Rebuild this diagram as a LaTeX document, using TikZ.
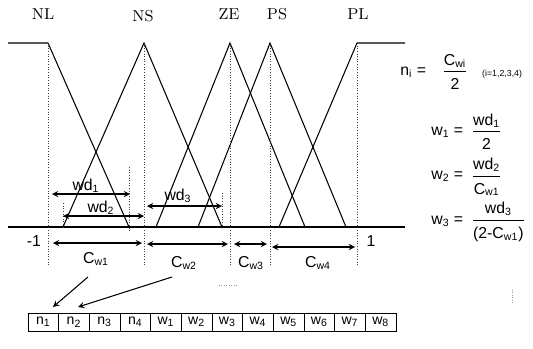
\documentclass[tikz,border=0pt]{standalone}
\usepackage{amsmath}
\usepackage{fontspec}
\newfontfamily\lsans{Liberation Sans}
\usetikzlibrary{calc}

\newcommand{\numstrut}{\rule[-2pt]{0pt}{2pt}}
\newcommand{\denstrut}{\rule{0pt}{9pt}}

\tikzset{
  mf/.style={line width=0.6pt},
  guide/.style={densely dotted, line width=0.5pt, black!75},
  dim/.style={<->, line width=0.6pt},
  setname/.style={font=\small},
  lbl/.style={font=\lsans\small},
  eqn/.style={font=\lsans\small, anchor=west, inner sep=0pt},
  cell/.style={draw, line width=0.5pt, minimum width=0.613cm, minimum height=0.36cm,
    inner sep=0pt, font=\lsans\footnotesize},
}

\begin{document}
\begin{tikzpicture}[x=0.02cm, y=-0.02cm, >=stealth]
  \useasboundingbox (0,0) rectangle (533,348);
  % ------- membership functions -------
  \draw[mf] (8,43) -- (48,43) -- (129,227);
  \draw[mf] (63,227) -- (144,43) -- (222,227);
  \draw[mf] (156,227) -- (230,43) -- (305,227);
  \draw[mf] (198,227) -- (270,43) -- (346,227);
  \draw[mf] (279,227) -- (357,43) -- (405,43);
  \draw[line width=1pt] (8,227) -- (405,227);
  \node[setname] (nl) at (43,14) {NL};
  \node[setname] (ns) at (143,16) {NS};
  \node[setname] (ze) at (229,14) {ZE};
  \node[setname] (ps) at (277,14) {PS};
  \node[setname] (pl) at (358,14) {PL};
  % ------- guide lines -------
  \foreach \x in {48,144,230,270,357} {
    \draw[guide] (\x,43) -- (\x,265);
  }
  \draw[guide] (129,167) -- (129,232);
  \draw[guide] (222,193) -- (222,227);
  \draw[guide] (63,203) -- (63,227);
  \node[lbl] (m1) at (34,241) {-1};
  \node[lbl] (p1) at (371,241) {1};
  % ------- widths -------
  \draw[dim] (52,194) -- (130,194);
  \node[lbl] (wd1) at (86,186) {wd\textsubscript{1}};
  \draw[dim] (63,216) -- (144,216);
  \node[lbl] (wd2) at (101,208) {wd\textsubscript{2}};
  \draw[dim] (147,206) -- (222,206);
  \node[lbl] (wd3) at (178,196) {wd\textsubscript{3}};
  % ------- centre distances -------
  \draw[dim] (53,243) -- (142,243);
  \node[lbl] (cw1) at (96,259) {C\textsubscript{w1}};
  \draw[dim] (147,244) -- (228,244);
  \node[lbl] (cw2) at (184,263) {C\textsubscript{w2}};
  \draw[dim] (234,244) -- (267,244);
  \node[lbl] (cw3) at (251,263) {C\textsubscript{w3}};
  \draw[dim] (272,247) -- (355,247);
  \node[lbl] (cw4) at (318,263) {C\textsubscript{w4}};
  % ------- formulas -------
  \node[eqn] (eqn) at (400,72)
    {n\textsubscript{i} =\quad$\dfrac{\text{C\textsubscript{wi}}\numstrut}{\text{2}\denstrut}$};
  \node[font=\lsans\tiny, anchor=west] (range) at (476,74) {(i=1,2,3,4)};
  \node[eqn] (eqw1) at (431,132)
    {w\textsubscript{1} =\enspace$\dfrac{\text{wd\textsubscript{1}}\numstrut}{\text{2}\denstrut}$};
  \node[eqn] (eqw2) at (431,177)
    {w\textsubscript{2} =\enspace$\dfrac{\text{wd\textsubscript{2}}\numstrut}{\text{C\textsubscript{w1}}\denstrut}$};
  \node[eqn] (eqw3) at (431,222)
    {w\textsubscript{3} =\enspace$\dfrac{\text{wd\textsubscript{3}}\numstrut}{\text{(2-C\textsubscript{w1})}\denstrut}$};
  % ------- parameter string -------
  \foreach \t [count=\i] in {n\textsubscript{1},n\textsubscript{2},n\textsubscript{3},n\textsubscript{4},
      w\textsubscript{1},w\textsubscript{2},w\textsubscript{3},w\textsubscript{4},
      w\textsubscript{5},w\textsubscript{6},w\textsubscript{7},w\textsubscript{8}} {
    \node[cell] (c\i) at ({28+30.67*(\i-0.5)},322) {\t};
  }
  \coordinate (from1) at (88,277);
  \coordinate (from2) at (172,277);
  \coordinate (to1) at (53,307);
  \coordinate (to2) at (78,307);
  \draw[->, line width=0.6pt] (from1) -- (to1);
  \draw[->, line width=0.6pt] (from2) -- (to2);
  \draw[densely dotted, black!40] (219,285) -- (237,285);
  \draw[densely dotted, black!40] (512,290) -- (512,304);
\end{tikzpicture}
\end{document}
